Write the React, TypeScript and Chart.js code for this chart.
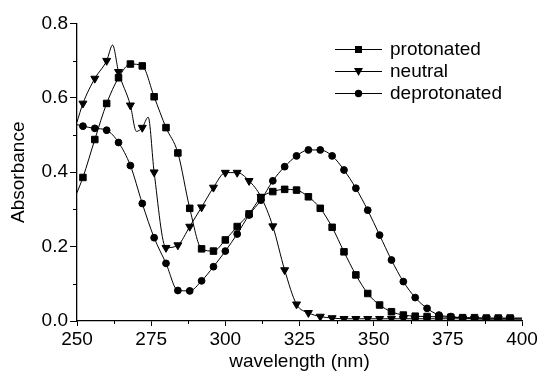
import React, { useEffect, useRef } from "react";
import { Chart, registerables } from "chart.js";

Chart.register(...registerables);

const wavelengths = [
  250, 252, 256, 260, 264, 268, 272, 276, 280, 284, 288, 292, 296, 300, 304, 308, 312, 316, 320,
  324, 328, 332, 336, 340, 344, 348, 352, 356, 360, 364, 368, 372, 376, 380, 384, 388, 392, 396, 400,
];

const protonated = [
  0.345, 0.386, 0.488, 0.585, 0.654, 0.691, 0.686, 0.603, 0.52, 0.452, 0.303, 0.194, 0.188, 0.218,
  0.254, 0.288, 0.332, 0.348, 0.354, 0.352, 0.334, 0.303, 0.252, 0.186, 0.124, 0.074, 0.043, 0.025,
  0.016, 0.013, 0.012, 0.011, 0.01, 0.009, 0.009, 0.008, 0.008, 0.008, 0.008,
];

const deprotonated = [
  0.528, 0.524, 0.518, 0.513, 0.48, 0.418, 0.316, 0.224, 0.155, 0.082, 0.081, 0.108, 0.146, 0.188,
  0.234, 0.285, 0.325, 0.377, 0.415, 0.444, 0.46, 0.46, 0.444, 0.406, 0.357, 0.298, 0.231, 0.164,
  0.106, 0.063, 0.034, 0.016, 0.012, 0.008, 0.006, 0.005, 0.005, 0.005, 0.005,
];

const neutralWavelengths = [
  250, 252, 256, 260, 262, 264, 268, 270, 272, 274, 276, 280, 284, 288, 292, 296, 300, 304, 308,
  312, 316, 320, 324, 328, 332, 336, 340, 344, 348, 352, 356, 360, 364, 368, 372, 376, 380, 384,
  388, 392, 396, 400,
];

const neutral = [
  0.535, 0.585, 0.652, 0.7, 0.742, 0.67, 0.58, 0.51, 0.52, 0.548, 0.4, 0.197, 0.204, 0.254, 0.306,
  0.359, 0.399, 0.399, 0.377, 0.334, 0.255, 0.137, 0.045, 0.022, 0.012, 0.008, 0.006, 0.006, 0.006,
  0.006, 0.006, 0.006, 0.006, 0.006, 0.006, 0.006, 0.006, 0.006, 0.006, 0.006, 0.006, 0.006,
];

const seriesLabels = ["protonated", "neutral", "deprotonated"];
const xTicks = [250, 275, 300, 325, 350, 375, 400];
const yTicks = [0, 0.2, 0.4, 0.6, 0.8];

const FONT = 'Arial, "Liberation Sans", sans-serif';
const FONT_SIZE = 19;

function toPoints(xs: number[], ys: number[]) {
  return xs.map((x, i) => ({ x, y: ys[i] }));
}

const markerRadius = (r: number) => (ctx: any) => {
  const raw = ctx.raw;
  if (!raw) return 0;
  return raw.x % 4 === 0 && raw.x < 400 ? r : 0;
};

const legendPlugin = {
  id: "customLegend",
  afterDraw(chart: any) {
    const ctx = chart.ctx;
    ctx.save();
    const styles = ["rect", "tri", "circle"];
    seriesLabels.forEach((label, i) => {
      const y = 49.5 + 22 * i;
      ctx.strokeStyle = "#000";
      ctx.lineWidth = 1;
      ctx.beginPath();
      ctx.moveTo(335, y);
      ctx.lineTo(382, y);
      ctx.stroke();
      ctx.fillStyle = "#000";
      const cx = 358.5;
      ctx.beginPath();
      if (styles[i] === "rect") {
        ctx.rect(cx - 3.5, y - 3.5, 7, 7);
      } else if (styles[i] === "tri") {
        ctx.moveTo(cx - 4.5, y - 3.5);
        ctx.lineTo(cx + 4.5, y - 3.5);
        ctx.lineTo(cx, y + 4.5);
        ctx.closePath();
      } else {
        ctx.arc(cx, y, 3.7, 0, Math.PI * 2);
      }
      ctx.fill();
      ctx.font = `${FONT_SIZE}px ${FONT}`;
      ctx.textBaseline = "middle";
      ctx.textAlign = "left";
      ctx.fillText(label, 390, y);
    });
    ctx.restore();
  },
};

const minorTicksPlugin = {
  id: "minorTicks",
  afterDraw(chart: any) {
    const ctx = chart.ctx;
    const xs = chart.scales.x;
    const ys = chart.scales.y;
    const area = chart.chartArea;
    ctx.save();
    ctx.strokeStyle = "#000";
    ctx.lineWidth = 1;
    for (let i = 0; i < xTicks.length - 1; i++) {
      const v = (xTicks[i] + xTicks[i + 1]) / 2;
      const px = Math.round(xs.getPixelForValue(v)) + 0.5;
      ctx.beginPath();
      ctx.moveTo(px, area.bottom);
      ctx.lineTo(px, area.bottom + 3);
      ctx.stroke();
    }
    for (let i = 0; i < yTicks.length - 1; i++) {
      const v = (yTicks[i] + yTicks[i + 1]) / 2;
      const py = Math.round(ys.getPixelForValue(v)) + 0.5;
      ctx.beginPath();
      ctx.moveTo(area.left, py);
      ctx.lineTo(area.left - 4, py);
      ctx.stroke();
    }
    ctx.restore();
  },
};

export default function App() {
  const canvasRef = useRef<HTMLCanvasElement | null>(null);

  useEffect(() => {
    if (!canvasRef.current) return;
    const common = {
      borderColor: "#000",
      backgroundColor: "#000",
      pointBackgroundColor: "#000",
      pointBorderColor: "#000",
      borderWidth: 1,
      pointBorderWidth: 1,
      cubicInterpolationMode: "monotone" as const,
      fill: false,
    };
    const chart = new Chart(canvasRef.current, {
      type: "line",
      data: {
        datasets: [
          {
            ...common,
            label: seriesLabels[0],
            data: toPoints(wavelengths, protonated),
            pointStyle: "rect",
            pointRadius: markerRadius(4.6),
          },
          {
            ...common,
            label: seriesLabels[1],
            data: toPoints(neutralWavelengths, neutral),
            pointStyle: "triangle",
            pointRotation: 180,
            pointRadius: markerRadius(4.6),
          },
          {
            ...common,
            label: seriesLabels[2],
            data: toPoints(wavelengths, deprotonated),
            pointStyle: "circle",
            pointRadius: markerRadius(3.4),
          },
        ],
      },
      options: {
        animation: false,
        responsive: true,
        maintainAspectRatio: false,
        layout: { padding: { top: 23.5, right: 20, left: 0, bottom: 0 } },
        plugins: {
          legend: { display: false },
          tooltip: { enabled: false },
        },
        scales: {
          x: {
            type: "linear",
            min: 250,
            max: 400,
            afterFit: (s: any) => {
              s.height = 58;
            },
            afterBuildTicks: (s: any) => {
              s.ticks = xTicks.map((v) => ({ value: v }));
            },
            ticks: {
              color: "#000",
              font: { family: FONT, size: FONT_SIZE },
              padding: 2,
              maxRotation: 0,
              autoSkip: false,
            },
            grid: {
              drawOnChartArea: false,
              drawTicks: true,
              tickLength: 5,
              color: "#000",
            },
            border: { display: true, color: "#000", width: 1.3 },
            title: {
              display: true,
              text: "wavelength (nm)",
              color: "#000",
              font: { family: FONT, size: FONT_SIZE },
              padding: { top: 0, bottom: 6 },
            },
          },
          y: {
            type: "linear",
            min: 0,
            max: 0.8,
            afterFit: (s: any) => {
              s.width = 77;
            },
            afterBuildTicks: (s: any) => {
              s.ticks = yTicks.map((v) => ({ value: v }));
            },
            ticks: {
              color: "#000",
              font: { family: FONT, size: FONT_SIZE },
              padding: 2,
              callback: (v: any) => Number(v).toFixed(1),
            },
            grid: {
              drawOnChartArea: false,
              drawTicks: true,
              tickLength: 7,
              color: "#000",
            },
            border: { display: true, color: "#000", width: 1.3 },
            title: {
              display: true,
              text: "Absorbance",
              color: "#000",
              font: { family: FONT, size: FONT_SIZE },
              padding: { top: 7, bottom: 0 },
            },
          },
        },
      },
      plugins: [legendPlugin, minorTicksPlugin],
    } as any);
    return () => chart.destroy();
  }, []);

  return (
    <div style={{ position: "fixed", left: 0, top: 0, width: 542, height: 379, background: "#fff" }}>
      <canvas ref={canvasRef} />
    </div>
  );
}
